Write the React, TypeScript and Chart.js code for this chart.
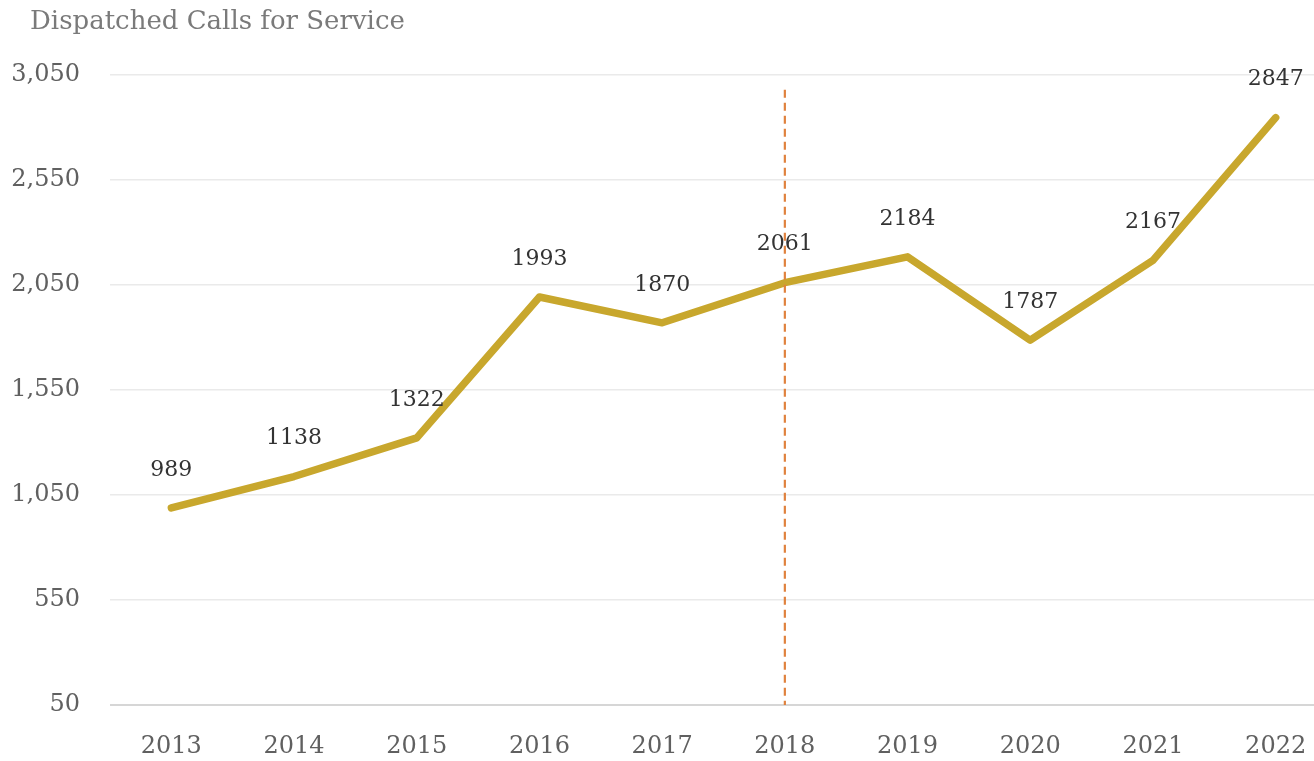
import React, { useEffect, useRef } from "react";
import { Chart, registerables } from "chart.js";

Chart.register(...registerables);

const years = ["2013", "2014", "2015", "2016", "2017", "2018", "2019", "2020", "2021", "2022"];
const calls = [989, 1138, 1322, 1993, 1870, 2061, 2184, 1787, 2167, 2847];
const yTicks = [50, 550, 1050, 1550, 2050, 2550, 3050];
const markerYear = "2018";
const markerTop = 2980;
const titleText = "Dispatched Calls for Service";

const FONT = "'DejaVu Serif', serif";

const overlayPlugin = {
  id: "overlay",
  afterDatasetsDraw(chart: any) {
    const ctx = chart.ctx;
    const x = chart.scales.x;
    const y = chart.scales.y;
    const mx = x.getPixelForValue(years.indexOf(markerYear));
    ctx.save();
    ctx.strokeStyle = "#E0823E";
    ctx.lineWidth = 2.2;
    ctx.setLineDash([8, 5]);
    ctx.beginPath();
    ctx.moveTo(mx, y.getPixelForValue(markerTop));
    ctx.lineTo(mx, y.getPixelForValue(yTicks[0]));
    ctx.stroke();
    ctx.restore();
    ctx.save();
    ctx.font = `22px ${FONT}`;
    ctx.fillStyle = "#333333";
    ctx.textAlign = "center";
    ctx.textBaseline = "middle";
    const meta = chart.getDatasetMeta(0);
    meta.data.forEach((pt: any, i: number) => {
      ctx.fillText(String(calls[i]), pt.x, pt.y - 38);
    });
    ctx.restore();
  },
};

export default function App() {
  const ref = useRef<HTMLCanvasElement | null>(null);
  useEffect(() => {
    document.body.style.margin = "0";
    document.body.style.overflow = "hidden";
    const canvas = ref.current!;
    const chart = new Chart(canvas, {
      type: "line",
      data: {
        labels: years,
        datasets: [
          {
            data: calls,
            borderColor: "#C8A72D",
            borderWidth: 7.5,
            pointRadius: 0,
            tension: 0,
            fill: false,
            borderCapStyle: "round",
            borderJoinStyle: "round",
          },
        ],
      },
      options: {
        responsive: false,
        animation: false,
        devicePixelRatio: 1,
        layout: { padding: { left: 0, right: 0, top: 75, bottom: 0 } },
        plugins: {
          legend: { display: false },
          tooltip: { enabled: false },
          title: { display: false },
        },
        scales: {
          x: {
            offset: true,
            grid: { display: false, drawTicks: false },
            border: { display: false },
            afterFit(axis: any) {
              axis.height = 56;
            },
            ticks: {
              color: "#606060",
              font: { family: FONT, size: 24 },
              padding: 27,
              maxRotation: 0,
              autoSkip: false,
            },
          },
          y: {
            min: yTicks[0],
            max: yTicks[yTicks.length - 1],
            afterBuildTicks(axis: any) {
              axis.ticks = yTicks.map((v) => ({ value: v }));
            },
            afterFit(axis: any) {
              axis.width = 110;
            },
            grid: {
              drawTicks: false,
              color: (c: any) => (c.tick && c.tick.value === yTicks[0] ? "#D6D6D6" : "#EAEAEA"),
              lineWidth: (c: any) => (c.tick && c.tick.value === yTicks[0] ? 2 : 1.5),
            },
            border: { display: false },
            ticks: {
              color: "#606060",
              font: { family: FONT, size: 24 },
              padding: 30,
              callback: (v: any) => Number(v).toLocaleString("en-US"),
            },
          },
        },
      },
      plugins: [overlayPlugin],
    });
    return () => chart.destroy();
  }, []);
  return (
    <div style={{ width: 1314, height: 761, overflow: "hidden", position: "relative", background: "#fff" }}>
      <div
        style={{
          position: "absolute",
          left: 30,
          top: 3,
          fontFamily: FONT,
          fontSize: 26,
          color: "#7a7a7a",
          lineHeight: "34px",
          whiteSpace: "nowrap",
        }}
      >
        {titleText}
      </div>
      <canvas ref={ref} width={1337} height={761} style={{ display: "block" }} />
    </div>
  );
}
